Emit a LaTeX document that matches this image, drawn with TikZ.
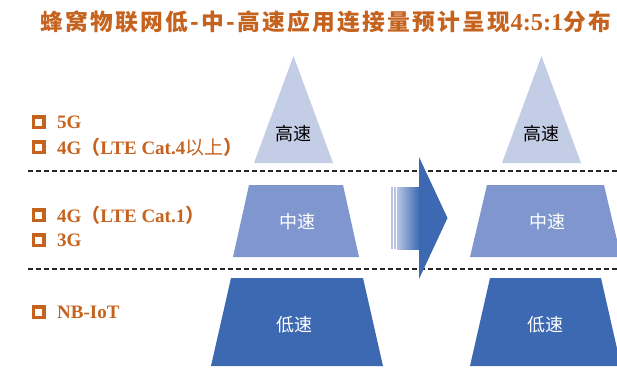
\documentclass[tikz,border=0pt]{standalone}
\usepackage{fontspec}
\setmainfont{Liberation Serif}
\newfontfamily\cjk{Noto Sans CJK SC}
\newfontfamily\cjksp[LetterSpace=10]{Noto Sans CJK SC}
\definecolor{torange}{RGB}{197,98,30}
\definecolor{hiblue}{RGB}{196,205,230}
\definecolor{midblue}{RGB}{127,150,207}
\definecolor{lowblue}{RGB}{61,104,178}
\definecolor{stripeblue}{RGB}{183,196,228}
\tikzset{
  sep/.style={dashed, dash pattern=on 5pt off 3pt, line width=1.1pt, black!85},
  chk/.style={fill=torange, minimum size=14pt, inner sep=0pt},
  chkin/.style={fill=white, minimum size=7pt, inner sep=0pt},
  lbl/.style={anchor=west, text=torange, font=\bfseries\fontsize{19}{22}\selectfont, inner sep=0pt},
  spd/.style={font=\cjk\fontsize{18}{21}\selectfont, inner sep=0pt},
}
\begin{document}
\begin{tikzpicture}[x=1pt,y=-1pt]
\useasboundingbox (0,0) rectangle (617,368);
% title
\node[anchor=west, text=torange, inner sep=0pt] (title) at (40,22)
  {\resizebox{571pt}{!}{\cjksp\bfseries\fontsize{20.5}{24}\selectfont 蜂窝物联网低-中-高速应用连接量预计呈现{\rmfamily\bfseries\fontsize{22}{24}\selectfont 4:5:1}分布}};
% separators
\coordinate (s1a) at (28,171); \coordinate (s1b) at (617,171);
\coordinate (s2a) at (28,269); \coordinate (s2b) at (617,269);
\draw[sep] (s1a) -- (s1b);
\draw[sep] (s2a) -- (s2b);
% left labels
\foreach \n/\y in {b1/122,b2/147,b3/215,b4/240,b5/312}{
  \node[chk] (\n) at (38.5,\y) {};
  \node[chkin] (\n i) at (\n) {};
}
\node[lbl] (l1) at (57,122) {5G};
\node[lbl] (l2) at (57,147) {4G{\cjk（}LTE Cat.4{\cjk\mdseries 以上}{\cjk）}};
\node[lbl] (l3) at (57,215) {4G{\cjk（}LTE Cat.1{\cjk）}};
\node[lbl] (l4) at (57,240) {3G};
\node[lbl] (l5) at (57,312) {NB-IoT};
% left pyramid
\fill[hiblue] (293.5,56) -- (333,163) -- (254,163) -- cycle;
\fill[midblue] (249,185) -- (343,185) -- (359,257) -- (233,257) -- cycle;
\fill[lowblue] (231,278) -- (363,278) -- (383,366) -- (211,366) -- cycle;
\node[spd, text=black] (lh) at (293,134) {高速};
\node[spd, text=white] (lm) at (297,222) {中速};
\node[spd, text=white] (ll) at (294,325) {低速};
% right pyramid
\fill[hiblue] (541.5,56) -- (581,163) -- (502,163) -- cycle;
\fill[midblue] (487,185) -- (604,185) -- (621,257) -- (470,257) -- cycle;
\fill[lowblue] (490,278) -- (601,278) -- (621,366) -- (470,366) -- cycle;
\node[spd, text=black] (rh) at (541,134) {高速};
\node[spd, text=white] (rm) at (547,222) {中速};
\node[spd, text=white] (rl) at (545,325) {低速};
% arrow
\fill[stripeblue] (391,187) rectangle (392.6,249);
\fill[stripeblue] (394,187) rectangle (395.6,249);
\shade[left color=stripeblue, right color=lowblue] (397,187) rectangle (419.5,249);
\fill[lowblue] (419,157) -- (447.5,218) -- (419,279) -- cycle;
\end{tikzpicture}
\end{document}
